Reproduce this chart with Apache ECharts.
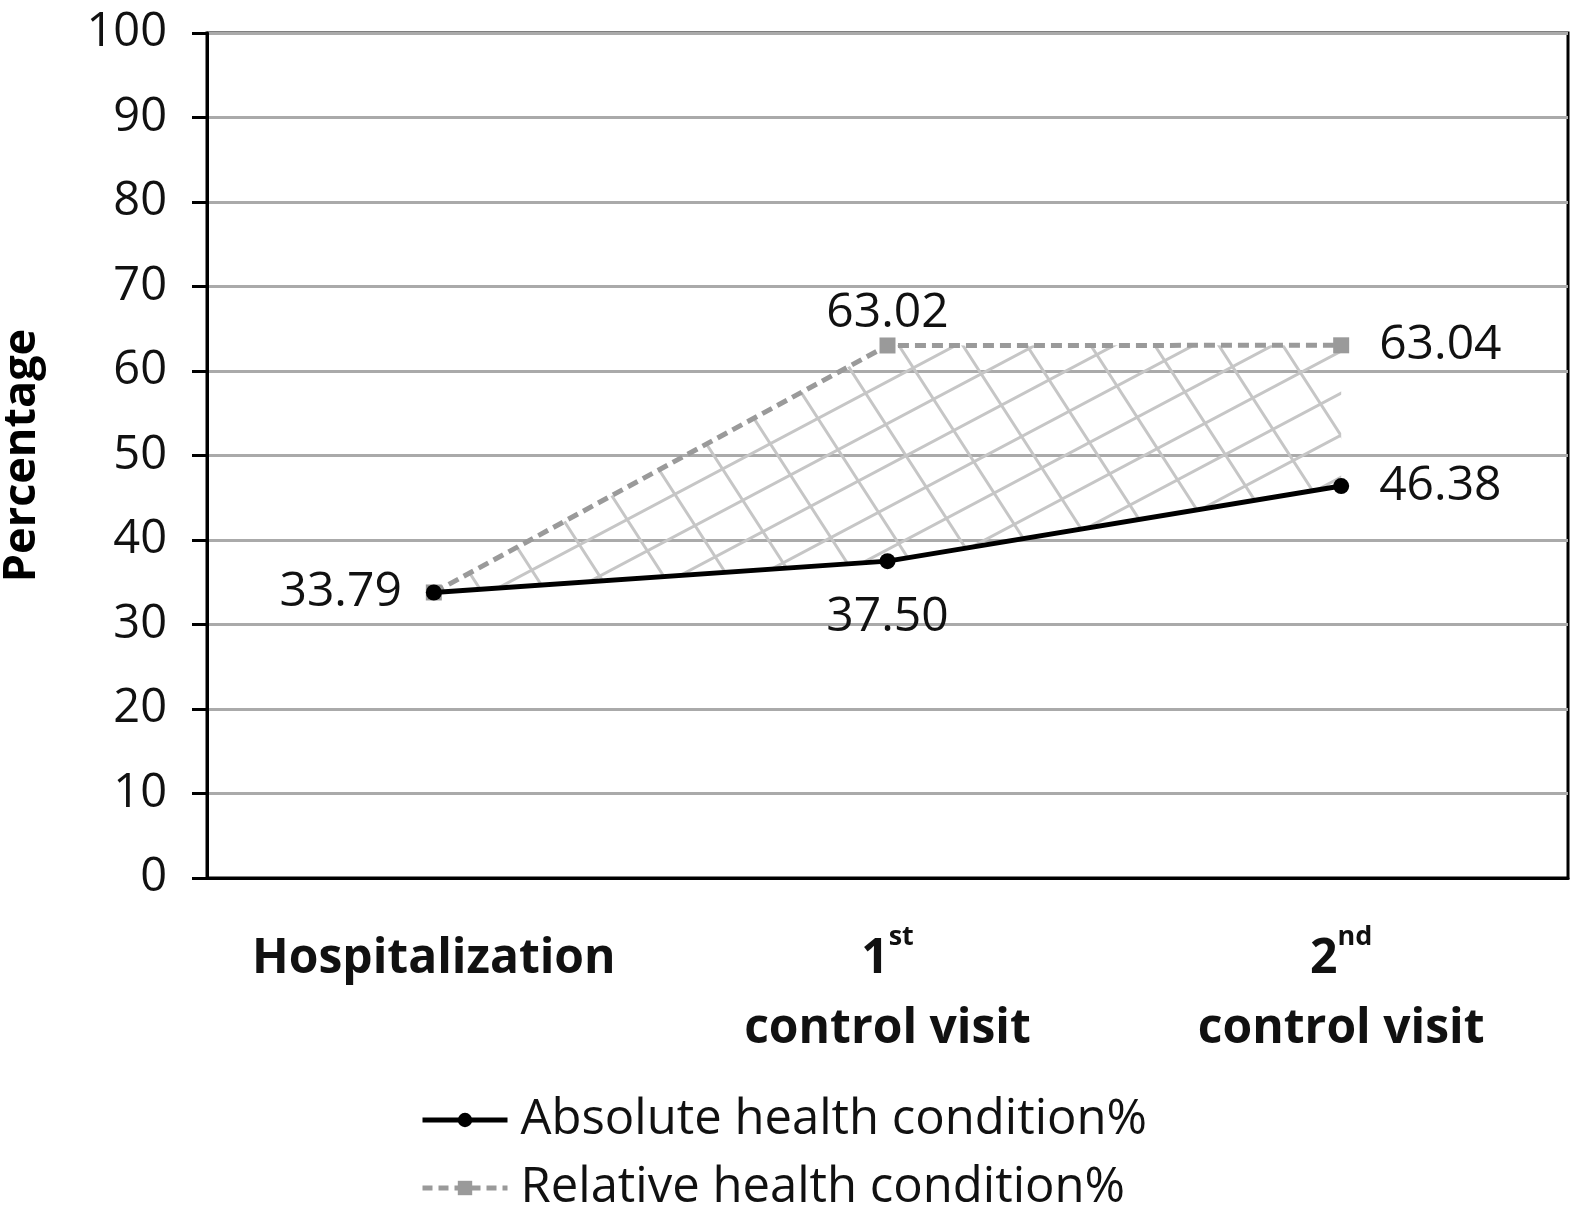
<!DOCTYPE html>
<html>
<head>
<meta charset="utf-8">
<script src="https://cdn.jsdelivr.net/npm/echarts@6/dist/echarts.min.js"></script>
<style>
html,body{margin:0;padding:0;background:#fff;}
#chart{width:1571px;height:1206px;}
</style>
</head>
<body>
<div id="chart"></div>
<script>
const categories = ['Hospitalization', '1st control visit', '2nd control visit'];
const absoluteValues = [33.79, 37.50, 46.38];
const relativeValues = [33.79, 63.02, 63.04];
const yTicks = [0, 10, 20, 30, 40, 50, 60, 70, 80, 90, 100];
const seriesNames = ['Absolute health condition%', 'Relative health condition%'];

const FONT = 'Open Sans';
const GRAY = '#9a9a9a';

function makeHatch(w, h) {
  const c = document.createElement('canvas');
  c.width = w; c.height = h;
  const ctx = c.getContext('2d');
  ctx.strokeStyle = '#c6c6c6';
  ctx.lineWidth = 3;
  ctx.beginPath();
  const sA = -0.53, dyA = 42;
  for (let b = -1500; b < h + 1500; b += dyA) {
    ctx.moveTo(0, b); ctx.lineTo(w, b + sA * w);
  }
  const sB = 1.55, dxB = 64;
  for (let a = -1500; a < w + 200; a += dxB) {
    ctx.moveTo(a, 0); ctx.lineTo(a + h / sB, h);
  }
  ctx.stroke();
  return c;
}
const hatch = makeHatch(1571, 1206);

const bandValues = relativeValues.map((v, i) => +(v - absoluteValues[i]).toFixed(2));

const chart = echarts.init(document.getElementById('chart'));

const catLabel = (v) => {
  if (v === categories[0]) return '{b|Hospitalization}';
  if (v === categories[1]) return '{b|1}{sup|st}\n{b|control visit}';
  return '{b|2}{sup|nd}\n{b|control visit}';
};

const legendText = { fontFamily: FONT, fontSize: 49, color: '#111', lineHeight: 56, padding: [0, 0, 0, 8] };

chart.setOption({
  animation: false,
  backgroundColor: '#fff',
  textStyle: { fontFamily: FONT },
  grid: {
    left: 207, top: 33, width: 1361, height: 845,
    containLabel: false,
    outerBoundsMode: 'none',
    show: true, borderColor: '#000', borderWidth: 3, backgroundColor: 'transparent'
  },
  legend: [
    {
      left: 415, top: 1087,
      itemWidth: 85, itemHeight: 18,
      data: [{ name: seriesNames[0], lineStyle: { width: 5, color: '#000' } }],
      textStyle: legendText
    },
    {
      left: 415, top: 1155,
      itemWidth: 85, itemHeight: 18,
      data: [{ name: seriesNames[1], lineStyle: { width: 5, color: GRAY, type: [10, 6] } }],
      textStyle: legendText
    }
  ],
  xAxis: {
    type: 'category',
    data: categories,
    boundaryGap: true,
    axisLine: { lineStyle: { color: '#000', width: 3 } },
    axisTick: { show: false },
    splitLine: { show: false },
    axisLabel: {
      margin: 46,
      interval: 0,
      formatter: catLabel,
      rich: {
        b: { fontFamily: FONT, fontSize: 48, fontWeight: 'bold', color: '#111', lineHeight: 70 },
        sup: { fontFamily: FONT, fontSize: 27, fontWeight: 'bold', color: '#111', lineHeight: 40, verticalAlign: 'top' }
      }
    }
  },
  yAxis: {
    type: 'value',
    min: 0, max: 100, interval: 10,
    name: 'Percentage',
    nameLocation: 'middle',
    nameGap: 162,
    nameRotate: 90,
    nameTextStyle: { fontFamily: FONT, fontSize: 45, fontWeight: 'bold', color: '#000' },
    axisLine: { show: true, lineStyle: { color: '#000', width: 3 } },
    axisTick: { show: true, length: 15, lineStyle: { color: '#000', width: 3 } },
    axisLabel: {
      margin: 40,
      fontFamily: FONT, fontSize: 47, color: '#111',
      formatter: (v) => yTicks.includes(v) ? String(v) : ''
    },
    splitLine: { show: true, lineStyle: { color: '#aaaaaa', width: 3 } }
  },
  series: [
    {
      name: 'base', type: 'line', stack: 'band', data: absoluteValues,
      symbol: 'none', lineStyle: { opacity: 0 }, silent: true, z: 1
    },
    {
      name: 'band', type: 'line', stack: 'band', data: bandValues,
      symbol: 'none', lineStyle: { opacity: 0 }, silent: true, z: 1,
      areaStyle: { color: { image: hatch, repeat: 'repeat' }, opacity: 1 }
    },
    {
      name: seriesNames[1], type: 'line', z: 3,
      data: relativeValues.map((v, i) => ({
        value: v,
        label: { position: i === 2 ? 'right' : 'top', distance: i === 2 ? 30 : 0 }
      })),
      symbol: 'rect', symbolSize: 16,
      itemStyle: { color: GRAY },
      lineStyle: { color: GRAY, width: 5, type: [11, 6] },
      label: {
        show: true, fontFamily: FONT, fontSize: 48, color: '#111',
        formatter: (p) => p.dataIndex === 0 ? '' : p.value.toFixed(2)
      },
      emphasis: { disabled: true }
    },
    {
      name: seriesNames[0], type: 'line', z: 4,
      data: absoluteValues.map((v, i) => ({
        value: v,
        label: { position: i === 0 ? 'left' : (i === 1 ? 'bottom' : 'right'), distance: i === 2 ? 30 : 24 }
      })),
      symbol: 'circle', symbolSize: 16,
      itemStyle: { color: '#000' },
      lineStyle: { color: '#000', width: 5 },
      label: {
        show: true, fontFamily: FONT, fontSize: 48, color: '#111',
        formatter: (p) => p.value.toFixed(2)
      },
      emphasis: { disabled: true }
    }
  ]
});
</script>
</body>
</html>
